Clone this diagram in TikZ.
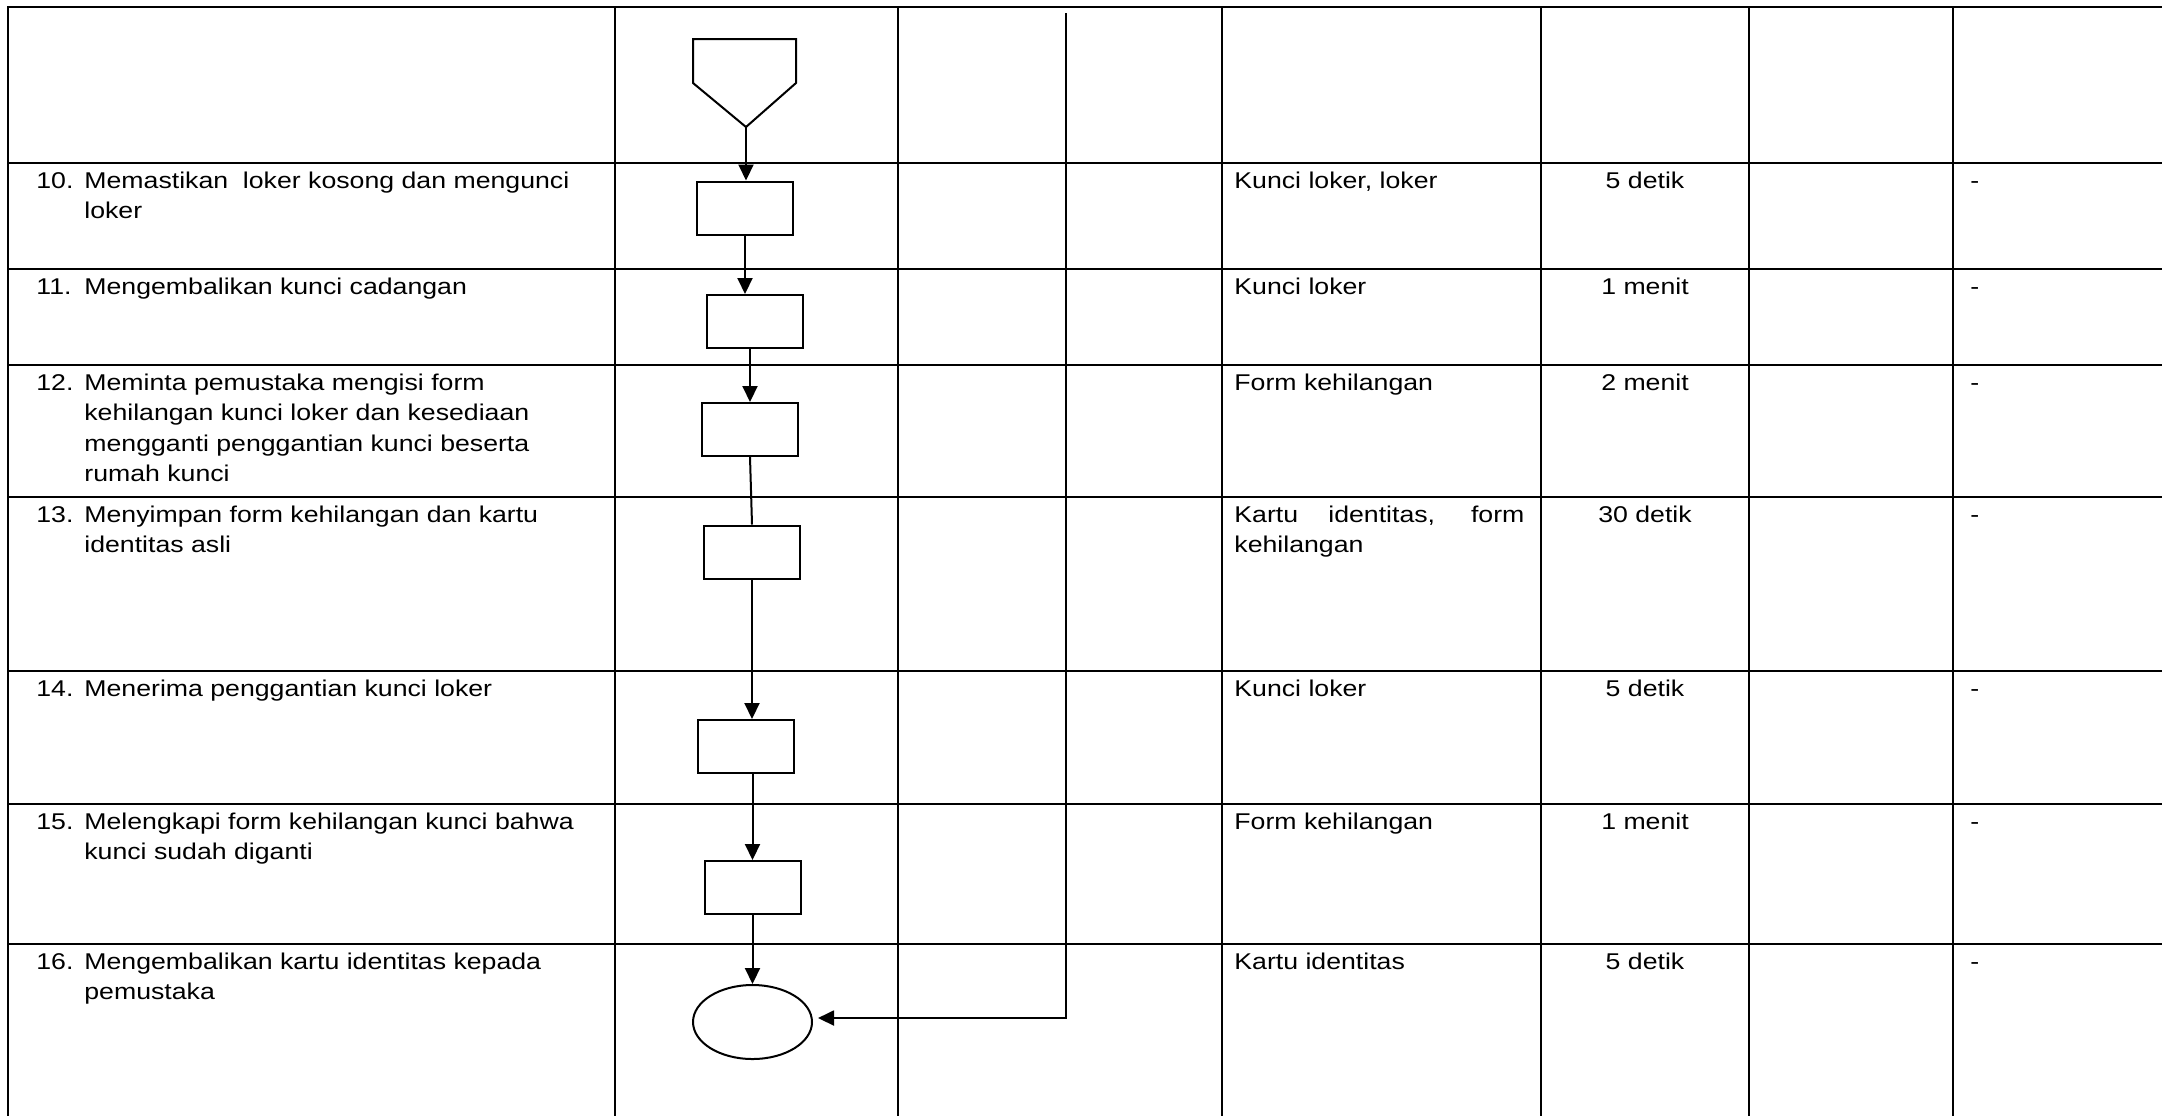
\documentclass[tikz,border=0pt]{standalone}
\usepackage{fontspec}
\setmainfont{Liberation Sans}[FakeStretch=1.17]
\usetikzlibrary{arrows.meta,shapes.geometric}
\newcommand{\twolines}[2]{\vtop{\hbox{#1}\hbox{#2}}}
\newcommand{\fourlines}[4]{\vtop{\hbox{#1}\hbox{#2}\hbox{#3}\hbox{#4}}}
\begin{document}
\begin{tikzpicture}[x=0.5pt,y=-0.5pt,
  hline/.style={line width=1.4pt,line cap=rect},
  vline/.style={line width=1.1pt},
  boxnode/.style={draw,line width=1pt,minimum width=48pt,minimum height=26.5pt,inner sep=0pt},
  endnode/.style={draw,ellipse,line width=1pt,minimum width=59.5pt,minimum height=37pt,inner sep=0pt},
  conn/.style={line width=1pt},
  arr/.style={line width=1pt,-{Triangle[length=8pt,width=7.5pt]}},
  txt/.style={font=\fontsize{11.4pt}{15.25pt}\selectfont,inner sep=0pt,anchor=base west},
  ctr/.style={font=\fontsize{11.4pt}{15.25pt}\selectfont,inner sep=0pt,anchor=base},
]
\useasboundingbox (0,0) rectangle (2162,1116);
\fill[white] (0,0) rectangle (2162,1116);

% grid
\foreach \y in {7,163,269,365,497,671,804,944}
  \draw[hline] (8,\y) -- (2162,\y);
\foreach \x in {8,615,898,1222,1541,1749,1953}
  \draw[vline] (\x,7) -- (\x,1116);

% off-page connector
\draw[conn,line join=miter] (693,39) -- (796,39) -- (796,83) -- (746,127) -- (693,83) -- cycle;
\coordinate (opc) at (746,127);

% process boxes
\node[boxnode] (b1) at (745,208) {};
\node[boxnode] (b2) at (754.5,321.5) {};
\node[boxnode] (b3) at (750,429.5) {};
\node[boxnode] (b4) at (752,552) {};
\node[boxnode] (b5) at (746,746.5) {};
\node[boxnode] (b6) at (752.5,887.5) {};
\node[endnode] (el) at (752.5,1022) {};

% connectors
\draw[arr] (opc) -- (opc |- b1.north);
\draw[arr] (b1.south) -- (b1.south |- b2.north);
\draw[arr] (b3.north |- b2.south) -- (b3.north);
\draw[conn] (b3.south) -- (b4.north);
\draw[arr] (b4.south) -- (b4.south |- b5.north);
\draw[arr] (b6.north |- b5.south) -- (b6.north);
\draw[arr] (b6.south) -- (b6.south |- el.north);
\coordinate (ctop) at (1066,13);
\draw[arr] (ctop) |- ([xshift=2.5pt,yshift=2pt]el.east);

% column 1: activities
\node[txt] (n10) at (36,188) {10.};
\node[txt] (t10) at (84,188) {\twolines{Memastikan\ \ loker kosong dan mengunci}{loker}};
\node[txt] (n11) at (36,294) {11.};
\node[txt] (t11) at (84,294) {Mengembalikan kunci cadangan};
\node[txt] (n12) at (36,390) {12.};
\node[txt] (t12) at (84,390) {\fourlines{Meminta pemustaka mengisi form}{kehilangan kunci loker dan kesediaan}{mengganti penggantian kunci beserta}{rumah kunci}};
\node[txt] (n13) at (36,522) {13.};
\node[txt] (t13) at (84,522) {\twolines{Menyimpan form kehilangan dan kartu}{identitas asli}};
\node[txt] (n14) at (36,696) {14.};
\node[txt] (t14) at (84,696) {Menerima penggantian kunci loker};
\node[txt] (n15) at (36,829) {15.};
\node[txt] (t15) at (84,829) {\twolines{Melengkapi form kehilangan kunci bahwa}{kunci sudah diganti}};
\node[txt] (n16) at (36,969) {16.};
\node[txt] (t16) at (84,969) {\twolines{Mengembalikan kartu identitas kepada}{pemustaka}};

% column: kelengkapan
\node[txt] (k10) at (1234,188) {Kunci loker, loker};
\node[txt] (k11) at (1234,294) {Kunci loker};
\node[txt] (k12) at (1234,390) {Form kehilangan};
\node[txt] (k13) at (1234,522) {\twolines{\makebox[145pt][s]{Kartu identitas, form}}{kehilangan}};
\node[txt] (k14) at (1234,696) {Kunci loker};
\node[txt] (k15) at (1234,829) {Form kehilangan};
\node[txt] (k16) at (1234,969) {Kartu identitas};

% column: waktu
\node[ctr] (w10) at (1645,188) {5 detik};
\node[ctr] (w11) at (1645,294) {1 menit};
\node[ctr] (w12) at (1645,390) {2 menit};
\node[ctr] (w13) at (1645,522) {30 detik};
\node[ctr] (w14) at (1645,696) {5 detik};
\node[ctr] (w15) at (1645,829) {1 menit};
\node[ctr] (w16) at (1645,969) {5 detik};

% column: keterangan
\node[txt] (d10) at (1970,188) {-};
\node[txt] (d11) at (1970,294) {-};
\node[txt] (d12) at (1970,390) {-};
\node[txt] (d13) at (1970,522) {-};
\node[txt] (d14) at (1970,696) {-};
\node[txt] (d15) at (1970,829) {-};
\node[txt] (d16) at (1970,969) {-};
\end{tikzpicture}
\end{document}
